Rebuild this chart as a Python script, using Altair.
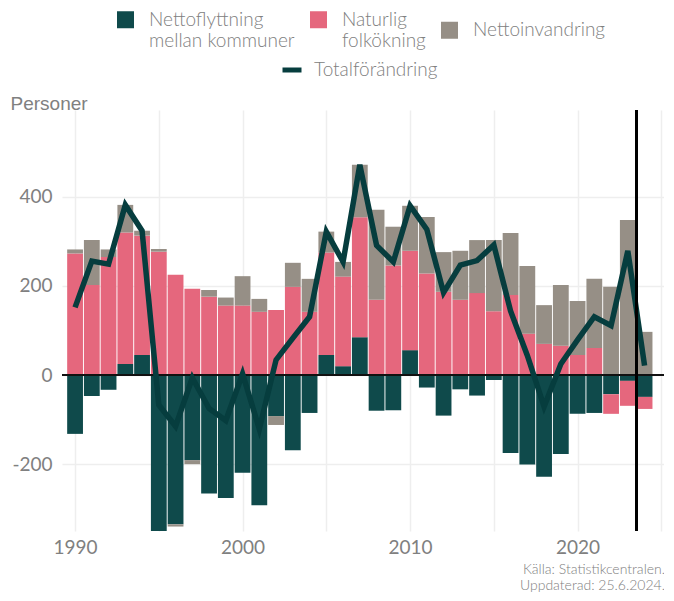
import altair as alt
import pandas as pd

years = list(range(1990, 2025))
flytt = [-132, -47, -33, 25, 45, -350, -335, -191, -266, -276, -219, -292, -92, -169, -85,
         45, 20, 85, -80, -79, 56, -28, -91, -32, -46, -11, -175, -201, -228, -177,
         -87, -85, -43, -13, -49]
natur = [273, 202, 265, 295, 268, 277, 225, 194, 176, 156, 156, 142, 146, 198, 142,
         230, 201, 269, 169, 246, 223, 228, 187, 169, 184, 143, 180, 93, 70, 66,
         45, 61, -44, -56, -27]
invand = [9, 101, 17, 62, 11, 6, -5, -9, 15, 18, 66, 29, -20, 54, 74,
          47, 33, 118, 202, 87, 101, 127, 89, 110, 119, 160, 139, 152, 87, 136,
          121, 155, 198, 348, 97]
total = [152, 256, 249, 382, 324, -67, -115, -6, -75, -102, 3, -121, 34, 83, 131,
         322, 254, 472, 291, 254, 380, 327, 185, 247, 257, 292, 144, 44, -71, 25,
         79, 131, 111, 279, 21]

S1 = "Nettoflyttning mellan kommuner"
S2 = "Naturlig folkökning"
S3 = "Nettoinvandring"
S4 = "Totalförändring"
series = [S1, S2, S3]
colors = ["#0f4a4b", "#e5677d", "#968f86"]
line_color = "#063d3e"

rows = []
for i, y in enumerate(years):
    for k, (s, vals) in enumerate(zip(series, [flytt, natur, invand])):
        rows.append({"year": y, "serie": s, "value": vals[i], "ord": k})
bars_df = pd.DataFrame(rows)
line_df = pd.DataFrame({"year": years, "total": total, "serie": [S4] * len(years)})

FONT = "Lato"
TXT = "#808080"

xscale = alt.Scale(domain=[1989.22, 2025.16], nice=False, zero=False, padding=0)
yscale = alt.Scale(domain=[-350, 595], nice=False, zero=False, padding=0)

xaxis = alt.Axis(values=list(range(1990, 2026, 5)),
                 labelExpr="datum.value % 10 == 0 ? '' + datum.value : ''",
                 title=None, grid=True, gridColor="#eeeeee", gridWidth=1.5,
                 domain=False, ticks=False, labelFont=FONT, labelFontSize=19,
                 labelColor=TXT, labelPadding=7)
yaxis = alt.Axis(values=[-200, 0, 200, 400], labelExpr="'' + datum.value",
                 title="Personer", titleAngle=0, titleX=-52, titleY=-1,
                 titleAlign="left", titleBaseline="alphabetic",
                 titleFont="Liberation Sans", titleFontSize=19, titleFontWeight="normal",
                 titleColor=TXT,
                 grid=True, gridColor="#eeeeee", gridWidth=1.5,
                 domain=False, ticks=False, labelFont=FONT, labelFontSize=19,
                 labelColor=TXT, labelPadding=10)

label_expr = ("datum.label == '" + S1 + "' ? ['Nettoflyttning', 'mellan kommuner'] : "
              "datum.label == '" + S2 + "' ? ['Naturlig', 'folkökning'] : datum.label")

bars = alt.Chart(bars_df).mark_bar(size=15.8).encode(
    x=alt.X("year:Q", scale=xscale, axis=xaxis),
    y=alt.Y("value:Q", stack="zero", scale=yscale, axis=yaxis),
    color=alt.Color("serie:N", scale=alt.Scale(domain=series, range=colors),
                    legend=alt.Legend(orient="none", legendX=54, legendY=-100,
                                      direction="horizontal", columns=3, title=None,
                                      symbolType="square", symbolSize=289,
                                      symbolStrokeWidth=0, labelFont=FONT,
                                      labelFontSize=19, labelFontWeight=300,
                                      labelColor=TXT,
                                      labelExpr=label_expr, labelOffset=14,
                                      columnPadding=14, labelLimit=300)),
    order=alt.Order("ord:Q", sort="ascending"),
)

zero = alt.Chart(line_df).mark_rule(color="#111111", strokeWidth=2).encode(
    y=alt.datum(0, scale=yscale))

line = alt.Chart(line_df).mark_line(strokeWidth=5.5).encode(
    x=alt.X("year:Q", scale=xscale),
    y=alt.Y("total:Q", scale=yscale),
    color=alt.Color("serie:N", scale=alt.Scale(domain=[S4], range=[line_color]),
                    legend=alt.Legend(orient="none", legendX=218, legendY=-52,
                                      title=None, symbolType="stroke",
                                      symbolSize=361, symbolStrokeWidth=5,
                                      labelFont=FONT, labelFontSize=19,
                                      labelFontWeight=300,
                                      labelColor=TXT, labelOffset=10)),
)

vrule = alt.Chart(line_df).mark_rule(color="#000000", strokeWidth=2).encode(
    x=alt.datum(2023.5, scale=xscale))

chart = alt.layer(bars, zero, line, vrule).resolve_scale(color="independent").properties(
    width=602, height=421,
    autosize=alt.AutoSizeParams(type="none"),
    padding={"left": 54, "top": 102, "right": 0, "bottom": 62},
    title=alt.TitleParams(["Källa: Statistikcentralen.", "Uppdaterad: 25.6.2024."],
                          orient="bottom", anchor="end", font=FONT, fontSize=14,
                          fontWeight=300, color=TXT, lineHeight=16, offset=6),
).configure_view(stroke=None)

chart.save("out.html", embed_options={"renderer": "svg", "actions": False})
